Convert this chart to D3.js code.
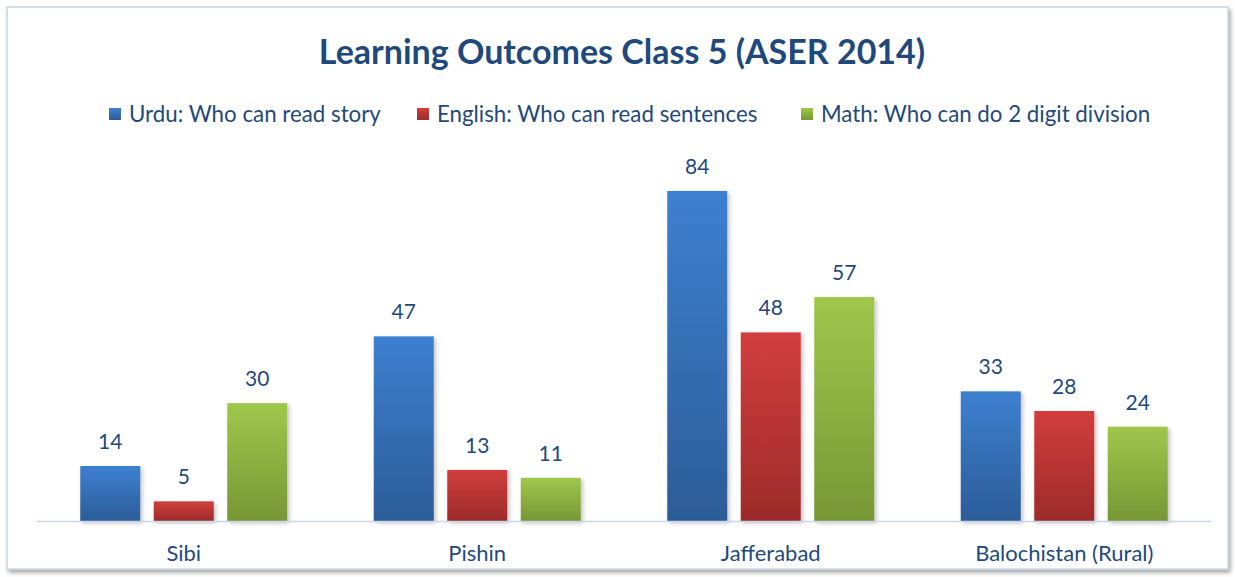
<!DOCTYPE html>
<html><head><meta charset="utf-8">
<script src="https://cdn.jsdelivr.net/npm/d3@7"></script>
<style>body{margin:0;background:#fff;}svg{display:block;font-family:Lato,"Noto Sans",sans-serif;}</style>
</head><body>
<svg id="c" width="1235" height="577"></svg>
<script>
const categories = ["Sibi", "Pishin", "Jafferabad", "Balochistan (Rural)"];
const seriesNames = ["Urdu: Who can read story", "English: Who can read sentences", "Math: Who can do 2 digit division"];
const urdu = [14, 47, 84, 33];
const english = [5, 13, 48, 28];
const math = [30, 11, 57, 24];
const seriesValues = [urdu, english, math];
const title = "Learning Outcomes Class 5 (ASER 2014)";

const svg = d3.select("#c");
const defs = svg.append("defs");
const grads = [["#3d80d0","#2c5c98"],["#d23e3c","#9c2b2a"],["#9fc74b","#769735"]];
grads.forEach((g,i)=>{
  const lg = defs.append("linearGradient").attr("id","g"+i).attr("x1",0).attr("y1",0).attr("x2",0).attr("y2",1);
  lg.append("stop").attr("offset","0%").attr("stop-color",g[0]);
  lg.append("stop").attr("offset","100%").attr("stop-color",g[1]);
});
const f = defs.append("filter").attr("id","sh").attr("x","-20%").attr("y","-20%").attr("width","140%").attr("height","140%");
f.append("feDropShadow").attr("dx",2).attr("dy",2).attr("stdDeviation",2).attr("flood-color","#000").attr("flood-opacity",0.25);
const fb = defs.append("filter").attr("id","bsh").attr("x","-5%").attr("y","-5%").attr("width","110%").attr("height","110%");
fb.append("feDropShadow").attr("dx",2).attr("dy",3).attr("stdDeviation",2).attr("flood-color","#000").attr("flood-opacity",0.35);

// frame
svg.append("rect").attr("x",7).attr("y",7).attr("width",1221).attr("height",562)
  .attr("fill","#fff").attr("stroke","#c9d6e6").attr("stroke-width",1.5).attr("filter","url(#bsh)");

const textColor = "#1f497d";
svg.append("text").attr("x",622).attr("y",64).attr("text-anchor","middle")
  .attr("font-size",34).attr("font-weight","bold").attr("fill",textColor).text(title);

// legend
const legendX = [109, 417, 801];
seriesNames.forEach((n,i)=>{
  svg.append("rect").attr("x",legendX[i]).attr("y",108).attr("width",12).attr("height",12).attr("fill","url(#g"+i+")");
  svg.append("text").attr("x",legendX[i]+20).attr("y",122).attr("font-size",22.3).attr("fill",textColor).text(n);
});

const left = 37, right = 1211, base = 521;
const x0 = d3.scaleBand().domain(categories).range([left,right]).paddingInner(0).paddingOuter(0);
const y = d3.scaleLinear().domain([0,90]).range([base, base - 353.6]);
const bw = 60, step = 73.5;

categories.forEach((c,ci)=>{
  const cx = x0(c) + x0.bandwidth()/2;
  seriesValues.forEach((vals,si)=>{
    const v = vals[ci];
    const bx = cx + (si-1)*step - bw/2;
    svg.append("rect").attr("x",bx).attr("y",y(v)).attr("width",bw).attr("height",base-y(v))
      .attr("fill","url(#g"+si+")").attr("filter","url(#sh)");
    svg.append("text").attr("x",bx+bw/2).attr("y",y(v)-17).attr("text-anchor","middle")
      .attr("font-size",21).attr("fill",textColor).text(v);
  });
});

svg.append("line").attr("x1",left).attr("x2",right).attr("y1",base+0.5).attr("y2",base+0.5)
  .attr("stroke","#c6d6ec").attr("stroke-width",1.5);

const xAxis = d3.axisBottom(x0).tickSize(0).tickPadding(0);
const ax = svg.append("g").attr("transform",`translate(0,${base})`).call(xAxis);
ax.select(".domain").remove();
ax.selectAll("text").attr("font-size",22).attr("fill",textColor).attr("dy",0).attr("y",40)
  .attr("font-family","Lato,'Noto Sans',sans-serif");
</script>
</body></html>
